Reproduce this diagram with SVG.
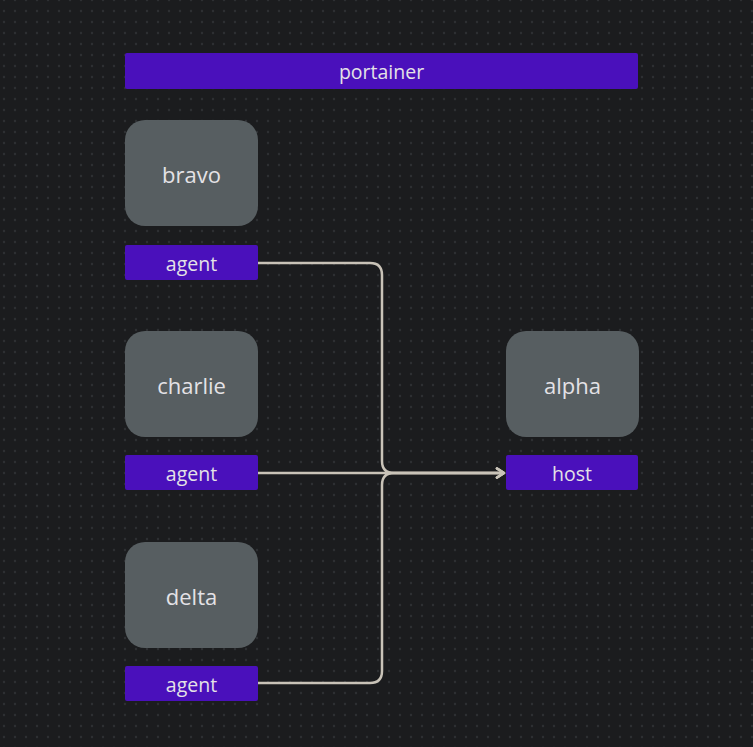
<svg xmlns="http://www.w3.org/2000/svg" width="753" height="747" viewBox="0 0 753 747">
<style>
.bar{fill:#4a10bb}
.node{fill:#575e61}
.t{font-family:"Open Sans","Liberation Sans",sans-serif;fill:#e4e2e6;text-anchor:middle;dominant-baseline:central}
.bt{font-size:19.5px}
.nt{font-size:22px}
.edge{fill:none;stroke:#c9c3b8;stroke-width:2.5}
</style>
<defs>
<pattern id="dots" x="4" y="0" width="11" height="11" patternUnits="userSpaceOnUse">
<circle cx="0" cy="0" r="1.2" fill="#2d2f32"/>
<circle cx="11" cy="0" r="1.2" fill="#2d2f32"/>
<circle cx="0" cy="11" r="1.2" fill="#2d2f32"/>
<circle cx="11" cy="11" r="1.2" fill="#2d2f32"/>
</pattern>
<marker id="arr" viewBox="0 0 12 12" refX="10" refY="6" markerWidth="12" markerHeight="12" markerUnits="userSpaceOnUse" orient="auto">
<path d="M3,1.5 L10,6 L3,10.5" fill="none" stroke="#c9c3b8" stroke-width="2.5" stroke-linecap="round" stroke-linejoin="round"/>
</marker>
</defs>
<rect width="753" height="747" fill="#1b1c1e"/>
<rect width="753" height="747" fill="url(#dots)"/>
<g id="portainer"><rect class="bar" x="125" y="53" width="513" height="36" rx="2"/><text class="t bt" x="381.5" y="71">portainer</text></g>
<g id="bravo"><rect class="node" x="125" y="120" width="133" height="106" rx="20"/><text class="t nt" x="191.5" y="174">bravo</text></g>
<g id="bravo-agent"><rect class="bar" x="125" y="245" width="133" height="35" rx="2"/><text class="t bt" x="191.5" y="263">agent</text></g>
<g id="charlie"><rect class="node" x="125" y="331" width="133" height="106" rx="20"/><text class="t nt" x="191.5" y="385">charlie</text></g>
<g id="charlie-agent"><rect class="bar" x="125" y="455" width="133" height="35" rx="2"/><text class="t bt" x="191.5" y="473">agent</text></g>
<g id="delta"><rect class="node" x="125" y="542" width="133" height="106" rx="20"/><text class="t nt" x="191.5" y="596">delta</text></g>
<g id="delta-agent"><rect class="bar" x="125" y="666" width="133" height="35" rx="2"/><text class="t bt" x="191.5" y="684">agent</text></g>
<g id="alpha"><rect class="node" x="506" y="331" width="133" height="106" rx="20"/><text class="t nt" x="572.5" y="385">alpha</text></g>
<g id="alpha-host"><rect class="bar" x="506" y="455" width="132" height="35" rx="2"/><text class="t bt" x="572" y="473">host</text></g>
<g id="connectors">
<path class="edge" d="M258,263 H370 Q382,263 382,275 V461 Q382,473 394,473 H504" marker-end="url(#arr)"/>
<path class="edge" d="M258,473 H504" marker-end="url(#arr)"/>
<path class="edge" d="M258,683 H370 Q382,683 382,671 V485 Q382,473 394,473 H504" marker-end="url(#arr)"/>
</g>
</svg>
